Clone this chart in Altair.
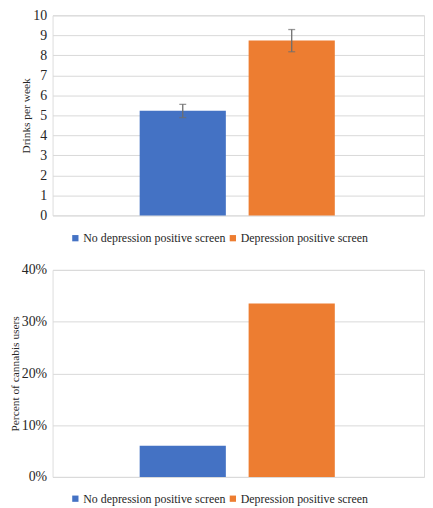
import altair as alt
import pandas as pd

groups = ["No depression positive screen", "Depression positive screen"]
colors = ["#4472C4", "#ED7D31"]
drinks = [5.23, 8.74]
drinks_lo = [4.89, 8.18]
drinks_hi = [5.55, 9.29]
cannabis = [0.06, 0.335]
drink_ticks = list(range(0, 11))
pct_ticks = [0, 0.1, 0.2, 0.3, 0.4]

FONT = "Liberation Serif"

df1 = pd.DataFrame({"group": groups, "value": drinks, "lo": drinks_lo, "hi": drinks_hi})
df2 = pd.DataFrame({"group": groups, "value": cannabis})


def xenc():
    return alt.X("group:N", sort=groups, axis=None,
                 scale=alt.Scale(paddingInner=0.209, paddingOuter=0.809, align=0.494))


def legend(y):
    return alt.Legend(title=None, orient="none", direction="horizontal", legendX=17, legendY=y,
                      symbolType="square", symbolSize=40, labelFont=FONT, labelFontSize=12,
                      labelColor="#262626", columnPadding=1, labelOffset=2,
                      symbolStrokeWidth=0)


def cenc(y):
    return alt.Color("group:N", sort=groups, scale=alt.Scale(domain=groups, range=colors),
                     legend=legend(y))


yaxis_common = dict(grid=True, gridColor="#d9d9d9", gridWidth=1, domain=False, ticks=False,
                    labelFont=FONT, labelFontSize=14, labelColor="#262626", labelPadding=6,
                    labelOverlap=False,
                    titleFont=FONT, titleFontSize=11.5, titleFontWeight="normal",
                    titleColor="#262626", titlePadding=1)

W = 375
H1 = 202
H2 = 209
ERR = "#6e6e6e"

base1 = alt.Chart(df1)
bars1 = base1.mark_bar().encode(
    x=xenc(),
    y=alt.Y("value:Q", scale=alt.Scale(domain=[0, 10], nice=False),
            axis=alt.Axis(title="Drinks per week", values=drink_ticks, tickCount=11,
                          **yaxis_common)),
    color=cenc(H1 + 17),
)
err = base1.mark_rule(color=ERR, strokeWidth=1.3).encode(
    x=xenc(), y="lo:Q", y2="hi:Q")
cap_lo = base1.mark_tick(color=ERR, size=7, thickness=1.3, orient="horizontal").encode(
    x=xenc(), y="lo:Q")
cap_hi = base1.mark_tick(color=ERR, size=7, thickness=1.3, orient="horizontal").encode(
    x=xenc(), y="hi:Q")
top = alt.layer(bars1, err, cap_lo, cap_hi).properties(width=W, height=H1)

bars2 = alt.Chart(df2).mark_bar().encode(
    x=xenc(),
    y=alt.Y("value:Q", scale=alt.Scale(domain=[0, 0.4], nice=False),
            axis=alt.Axis(title="Percent of cannabis users", values=pct_ticks, format=".0%",
                          tickCount=5, **yaxis_common)),
    color=cenc(H2 + 16),
)
bottom = bars2.properties(width=W, height=H2)

chart = alt.vconcat(top, bottom, spacing=17).resolve_scale(
    color="independent"
).properties(padding={"top": -3, "left": 0, "right": 0, "bottom": 0}).configure_view(
    stroke=None).configure(background="white").configure_axis(
    labelFont=FONT, titleFont=FONT)

chart.save("out.html", embed_options={"renderer": "svg", "actions": False})
